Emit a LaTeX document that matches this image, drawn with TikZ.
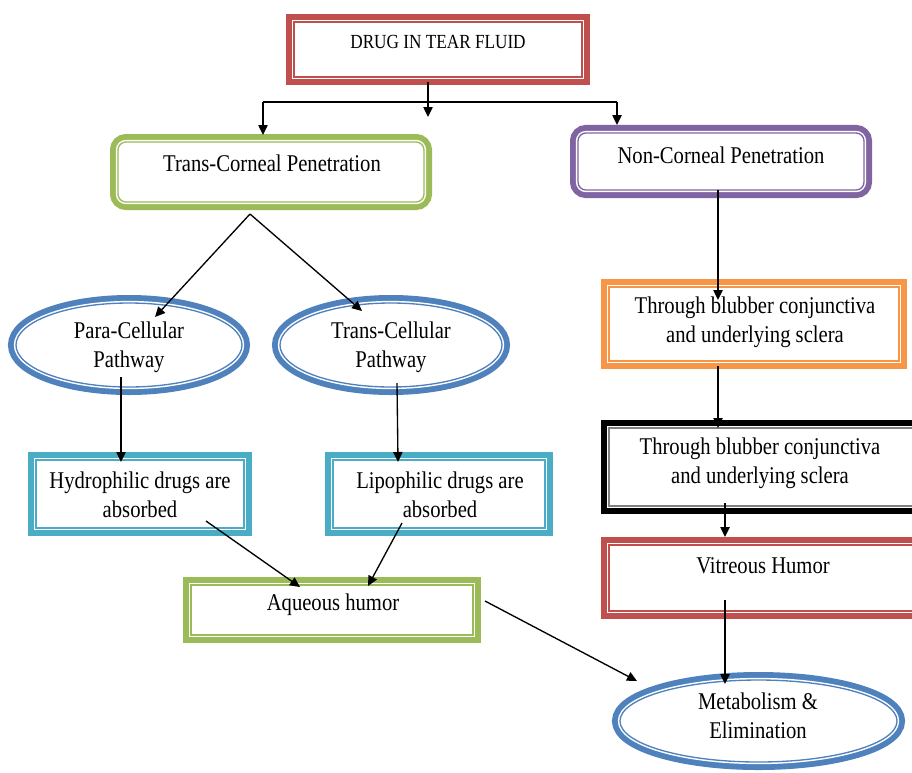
\documentclass[tikz,border=0pt]{standalone}
\usepackage{fontspec}
\setmainfont{Liberation Serif}[FakeStretch=0.86]
\usetikzlibrary{shapes.geometric,arrows.meta,calc}
\definecolor{cred}{HTML}{C0504D}
\definecolor{cgreen}{HTML}{9BBB59}
\definecolor{cpurple}{HTML}{8064A2}
\definecolor{cblue}{HTML}{4F81BD}
\definecolor{ccyan}{HTML}{4BACC6}
\definecolor{corange}{HTML}{F79646}
\definecolor{cgray}{HTML}{808080}
\begin{document}
\begin{tikzpicture}[x=0.75pt,y=-0.75pt,
  frame/.style 2 args={draw=#1, line width=12pt,
    postaction={fill=white},
    postaction={draw=white, line width=3.2pt},
    postaction={draw=#2, line width=1pt}},
  sq/.style={rectangle, inner sep=0pt},
  rnd/.style={rectangle, inner sep=0pt, rounded corners=6pt},
  el/.style={ellipse, inner sep=0pt},
  txt/.style={font=\fontsize{18}{21.5}\selectfont, align=center, inner sep=0pt},
  arr/.style={line width=1pt, -{Triangle[length=7.5pt,width=7pt]}},
  ln/.style={line width=1pt}]
\useasboundingbox (0,0) rectangle (912,772);
\clip (0,0) rectangle (912,772);
\fill[white] (0,0) rectangle (912,772);

% shapes
\node[sq, frame={cred}{cred}, minimum width=216pt, minimum height=41.3pt] (drug) at (438,49.5) {};
\node[rnd, frame={cgreen}{cgreen}, minimum width=229.5pt, minimum height=45pt] (tcp) at (271,172) {};
\node[rnd, frame={cpurple}{cpurple}, minimum width=214.5pt, minimum height=42.8pt] (ncp) at (721,161.5) {};
\node[el, frame={cblue}{cblue}, minimum width=169.5pt, minimum height=63pt] (para) at (129,345) {};
\node[el, frame={cblue}{cblue}, minimum width=166.5pt, minimum height=63pt] (tcell) at (391,345) {};
\node[sq, frame={ccyan}{ccyan}, minimum width=156pt, minimum height=51pt] (hydro) at (140,494) {};
\node[sq, frame={ccyan}{ccyan}, minimum width=159pt, minimum height=51pt] (lipo) at (439,494) {};
\node[sq, frame={cgreen}{cgreen}, minimum width=211.5pt, minimum height=37.5pt] (aqua) at (332,610) {};
\node[el, frame={cblue}{cblue}, minimum width=207.8pt, minimum height=61.5pt] (metab) at (758.5,721) {};
\node[sq, frame={corange}{corange}, minimum width=217.5pt, minimum height=55.5pt] (orange) at (754,324) {};
\node[sq, frame={black}{cgray}, minimum width=231pt, minimum height=58.5pt] (blk) at (763,467) {};
\node[sq, frame={cred}{cred}, minimum width=231pt, minimum height=49.5pt] (vitr) at (763,578) {};

% texts
\node[txt, font=\fontsize{15}{18}\selectfont] (drugT) at (438,42) {DRUG IN TEAR FLUID};
\node[txt] (tcpT) at (272,163) {Trans-Corneal Penetration};
\node[txt] (ncpT) at (721,155) {Non-Corneal Penetration};
\node[txt] (paraT) at (129,347) {Para-Cellular\\Pathway};
\node[txt] (tcellT) at (391,347) {Trans-Cellular\\Pathway};
\node[txt] (hydroT) at (140,495) {Hydrophilic drugs are\\absorbed};
\node[txt] (lipoT) at (440,495) {Lipophilic drugs are\\absorbed};
\node[txt] (aquaT) at (333,605) {Aqueous humor};
\node[txt] (orangeT) at (755,322) {Through blubber conjunctiva\\and underlying sclera};
\node[txt] (blkT) at (760,463) {Through blubber conjunctiva\\and underlying sclera};
\node[txt] (vitrT) at (763,566) {Vitreous Humor};
\node[txt] (metabT) at (758,716) {Metabolism \&\\Elimination};

% connectors
\coordinate (jL) at (263,102);
\coordinate (jR) at (617,102);
\coordinate (mid) at (428,117);
\draw[arr] ($(drug.center)+(-10,32.5)$) -- (mid);
\draw[ln] (jL) -- (jR);
\draw[arr] (jL) -- ($(tcp.center)+(-8,-37)$);
\draw[arr] (jR) -- ($(ncp.center)+(-104,-36.5)$);
\draw[arr] ($(tcp.south)+(-21,4)$) -- ($(para.center)+(26,-28)$);
\draw[arr] ($(tcp.south)+(-21,4)$) -- ($(tcell.center)+(-29,-34)$);
\draw[arr] ($(para.center)+(-8,32)$) -- ($(hydro.center)+(-19,-32)$);
\draw[arr] ($(tcell.center)+(6,38)$) -- ($(lipo.center)+(-41,-32)$);
\draw[arr] ($(hydro.center)+(66,27)$) -- ($(aqua.center)+(-32,-23)$);
\draw[arr] ($(lipo.center)+(-37,29)$) -- ($(aqua.center)+(36,-24)$);
\draw[arr] ($(aqua.center)+(153,-9)$) -- ($(metab.center)+(-121.5,-40)$);
\draw[arr] ($(ncp.center)+(-3,28.5)$) -- ($(orange.center)+(-36,-24)$);
\draw[arr] ($(orange.center)+(-36,42)$) -- ($(blk.center)+(-45,-39)$);
\draw[arr] ($(blk.center)+(-38,36)$) -- ($(vitr.center)+(-38,-41)$);
\draw[arr] ($(vitr.center)+(-38,22)$) -- ($(metab.center)+(-33.5,-37)$);
\end{tikzpicture}
\end{document}
